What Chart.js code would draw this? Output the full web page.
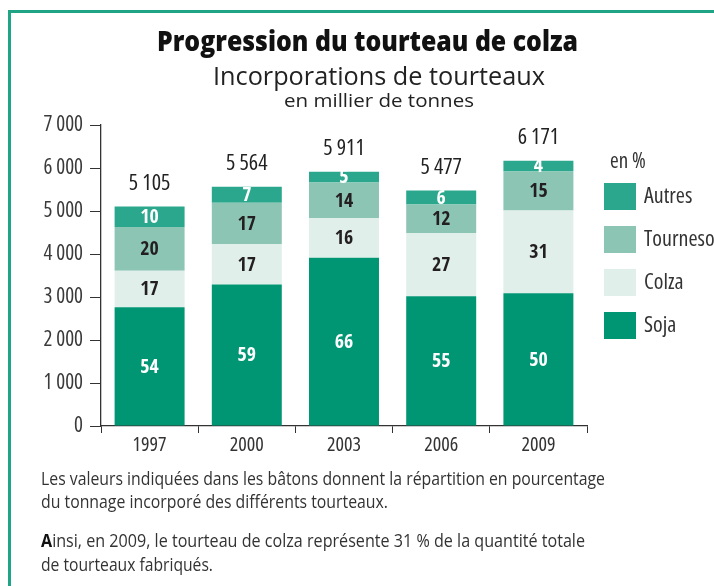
<!DOCTYPE html>
<html>
<head>
<meta charset="utf-8">
<script src="https://cdn.jsdelivr.net/npm/chart.js@4"></script>
<style>
  html, body { margin: 0; padding: 0; background: #fff; }
  #wrap { position: relative; width: 714px; height: 586px; overflow: hidden; }
  #frame { position: absolute; left: 8px; top: 10px; width: 720px; height: 600px;
    border-left: 3px solid #1fa486; border-top: 3px solid #1fa486; }
  canvas { position: absolute; left: 0; top: 0; }
  .txt { position: absolute; white-space: nowrap; line-height: 1; color: #333; transform-origin: 0 50%;
    font-family: 'Open Sans', 'Liberation Sans', sans-serif; }
</style>
</head>
<body>
<div id="wrap">
  <div id="frame"></div>
  <canvas id="chart" width="714" height="586"></canvas>
  <div class="txt" data-w="421" style="left:157px;top:26px;font-size:28px;font-weight:800;color:#111">Progression du tourteau de colza</div>
  <div class="txt" data-w="332" style="left:213px;top:62px;font-size:26px;color:#222">Incorporations de tourteaux</div>
  <div class="txt" data-w="190" style="left:284px;top:91px;font-size:19px;color:#222">en millier de tonnes</div>
  <div class="txt" data-w="564" style="left:41px;top:469px;font-size:18px">Les valeurs indiquées dans les bâtons donnent la répartition en pourcentage</div>
  <div class="txt" data-w="347" style="left:41px;top:492px;font-size:18px">du tonnage incorporé des différents tourteaux.</div>
  <div class="txt" data-w="544" style="left:41px;top:531px;font-size:18px"><b style="color:#111">A</b>insi, en 2009, le tourteau de colza représente 31 % de la quantité totale</div>
  <div class="txt" data-w="172" style="left:41px;top:555px;font-size:18px">de tourteaux fabriqués.</div>
</div>
<script>
// Years on the x axis
const years = ['1997', '2000', '2003', '2006', '2009'];
// Totals written above each bar (thousand tonnes)
const totals = [5105, 5564, 5911, 5477, 6171];
// Tonnage per cake type
const soja = [2760, 3290, 3910, 3020, 3090];
const colza = [850, 940, 920, 1470, 1920];
const tourneso = [1020, 960, 830, 660, 910];
const autres = [475, 374, 251, 327, 251];
// Percentages printed inside the bars
const sojaPct = [54, 59, 66, 55, 50];
const colzaPct = [17, 17, 16, 27, 31];
const tournesoPct = [20, 17, 14, 12, 15];
const autresPct = [10, 7, 5, 6, 4];
const yTicks = [0, 1000, 2000, 3000, 4000, 5000, 6000, 7000];

const BOLD = "'Open Sans Condensed', 'DejaVu Sans Condensed', sans-serif";
const REG = "'Open Sans', 'Liberation Sans', sans-serif";

// squeeze html text to the width it has in the picture
for (const el of document.querySelectorAll('.txt')) {
  const w = el.getBoundingClientRect().width;
  el.style.transform = `scaleX(${el.dataset.w / w})`;
}

function fmt(n) {
  return String(n).replace(/\B(?=(\d{3})+(?!\d))/g, ' ');
}

const valueLabels = {
  id: 'valueLabels',
  afterDatasetsDraw(chart) {
    const ctx = chart.ctx;
    ctx.save();
    ctx.textAlign = 'center';
    ctx.textBaseline = 'middle';
    chart.data.datasets.forEach((ds, i) => {
      const meta = chart.getDatasetMeta(i);
      meta.data.forEach((bar, j) => {
        ctx.font = `bold 20px ${BOLD}`;
        ctx.fillStyle = ds.labelColor;
        ctx.fillText(ds.pct[j], bar.x, (bar.y + bar.base) / 2 + 1);
      });
    });
    // totals above the stack
    const top = chart.getDatasetMeta(chart.data.datasets.length - 1);
    ctx.font = `500 condensed 22px ${REG}`;
    ctx.fillStyle = '#222';
    top.data.forEach((bar, j) => {
      ctx.fillText(fmt(totals[j]), bar.x, bar.y - 23);
    });
    ctx.restore();
  }
};

const sideLegend = {
  id: 'sideLegend',
  afterDraw(chart) {
    const ctx = chart.ctx;
    const x = chart.chartArea.right + 17;
    ctx.save();
    ctx.textBaseline = 'middle';
    ctx.fillStyle = '#333';
    ctx.font = `condensed 21px ${REG}`;
    ctx.fillText('en %', x + 6, 162);
    const list = chart.data.datasets.slice().reverse();
    list.forEach((ds, k) => {
      const y = 183 + k * 43;
      ctx.fillStyle = ds.backgroundColor;
      ctx.fillRect(x, y, 32, 27);
      ctx.fillStyle = '#333';
      ctx.font = `condensed 22px ${REG}`;
      ctx.fillText(ds.label, x + 40, y + 14);
    });
    ctx.restore();
  }
};

new Chart(document.getElementById('chart'), {
  type: 'bar',
  data: {
    labels: years,
    datasets: [
      { label: 'Soja', data: soja, pct: sojaPct, backgroundColor: '#009673', labelColor: '#fff' },
      { label: 'Colza', data: colza, pct: colzaPct, backgroundColor: '#e0efe9', labelColor: '#231f20' },
      { label: 'Tournesol', data: tourneso, pct: tournesoPct, backgroundColor: '#8dc5b4', labelColor: '#231f20' },
      { label: 'Autres', data: autres, pct: autresPct, backgroundColor: '#2aa78d', labelColor: '#fff' },
    ]
  },
  options: {
    responsive: false,
    animation: false,
    layout: { padding: { left: 0, right: 127, top: 125, bottom: 130 } },
    datasets: { bar: { categoryPercentage: 1, barPercentage: 0.72 } },
    plugins: { legend: { display: false }, tooltip: { enabled: false } },
    scales: {
      x: {
        stacked: true,
        afterFit(s) { s.height = 30; },
        grid: { drawOnChartArea: false, tickLength: 7, color: '#333', offset: true },
        border: { color: '#333', width: 1.3 },
        // Chart.js only accepts real font styles, so the stretch rides on the weight
        ticks: { color: '#333', font: { family: REG, weight: 'normal condensed', size: 20 }, padding: 0 }
      },
      y: {
        stacked: true,
        min: 0,
        max: 7000,
        afterFit(s) { s.width = 101; },
        afterBuildTicks(s) { s.ticks = yTicks.map(v => ({ value: v })); },
        grid: { drawOnChartArea: false, tickLength: 11, color: '#333' },
        border: { color: '#333', width: 1.3 },
        ticks: { color: '#3a3a3a', font: { family: REG, weight: 'normal condensed', size: 21 }, padding: 7, callback: v => fmt(v) }
      }
    }
  },
  plugins: [valueLabels, sideLegend]
});
</script>
</body>
</html>
